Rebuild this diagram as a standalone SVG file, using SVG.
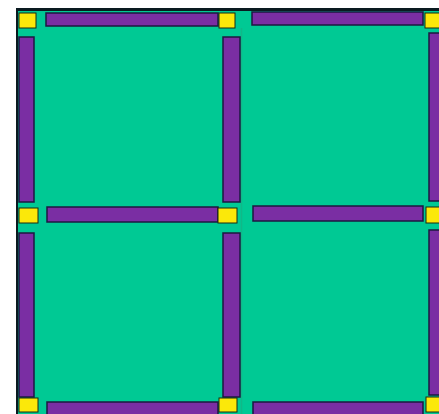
<svg xmlns="http://www.w3.org/2000/svg" width="439" height="414" viewBox="0 0 439 414">
<style>
.frame{fill:#0a1a20}
.cell{fill:#00c994}
.bar{fill:#7a2ea3;stroke:#1c1840;stroke-width:1.5}
.joint{fill:#fbe80a;stroke:#1a2a10;stroke-width:1}
.seam{stroke:#10b888;stroke-width:1.5}
</style>
<rect width="439" height="414" fill="#ffffff"/>
<rect class="frame" x="16" y="8" width="423" height="406"/>
<rect class="cell" x="18" y="11" width="421" height="403"/>
<line class="seam" x1="241.5" y1="28" x2="241.5" y2="414"/>
<g id="bars-h">
<rect class="bar" x="46" y="13" width="172" height="13"/>
<rect class="bar" x="252" y="12" width="171" height="13"/>
<rect class="bar" x="47" y="207" width="171" height="15"/>
<rect class="bar" x="253" y="206" width="170" height="15"/>
<rect class="bar" x="47" y="402" width="171" height="14"/>
<rect class="bar" x="253" y="402" width="170" height="14"/>
</g>
<g id="bars-v">
<rect class="bar" x="19" y="37" width="15" height="165"/>
<rect class="bar" x="19" y="233" width="15" height="164"/>
<rect class="bar" x="223" y="37" width="17" height="165"/>
<rect class="bar" x="223" y="233" width="17" height="164"/>
<rect class="bar" x="429" y="33" width="12" height="168"/>
<rect class="bar" x="429" y="230" width="12" height="165"/>
</g>
<g id="joints">
<rect class="joint" x="19" y="13" width="17" height="15"/>
<rect class="joint" x="219" y="13" width="16" height="15"/>
<rect class="joint" x="425" y="13" width="16" height="15"/>
<rect class="joint" x="19" y="208" width="19" height="15"/>
<rect class="joint" x="218" y="208" width="19" height="15"/>
<rect class="joint" x="426" y="207" width="15" height="16"/>
<rect class="joint" x="19" y="398" width="19" height="14"/>
<rect class="joint" x="219" y="398" width="18" height="14"/>
<rect class="joint" x="426" y="397" width="15" height="15"/>
</g>
</svg>
